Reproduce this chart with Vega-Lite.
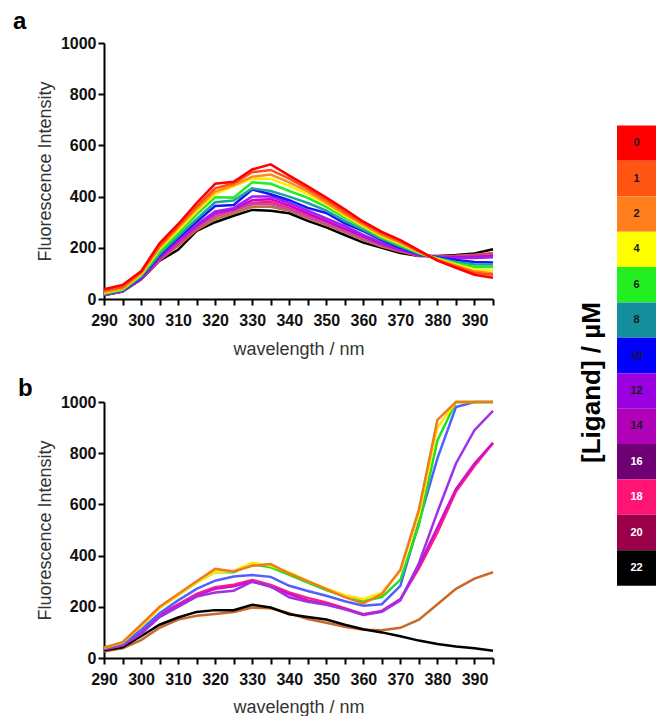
{
  "$schema": "https://vega.github.io/schema/vega-lite/v6.json",
  "background": "white",
  "padding": {"left": 13, "top": 10, "right": 8, "bottom": 0},
  "config": {
    "view": {"stroke": null},
    "font": "Liberation Sans",
    "axis": {
      "grid": false,
      "domainColor": "black",
      "domainWidth": 2,
      "tickColor": "black",
      "tickWidth": 2,
      "tickSize": 6,
      "labelFont": "Liberation Sans",
      "labelFontWeight": "bold",
      "labelFontSize": 16,
      "labelColor": "#111",
      "labelPadding": 2,
      "labelFlush": false,
      "labelOverlap": false,
      "titleFont": "Liberation Sans",
      "titleFontWeight": "normal",
      "titleFontSize": 18,
      "titleColor": "#333"
    }
  },
  "datasets": {
    "a": [
      {"w":290,"c0":38,"c1":32,"c2":28,"c4":25,"c6":20,"c8":20,"c10":20,"c12":18,"c14":18,"c16":18,"c18":18,"c20":17,"c22":15},
      {"w":295,"c0":55,"c1":47,"c2":42,"c4":40,"c6":36,"c8":34,"c10":33,"c12":31,"c14":30,"c16":30,"c18":30,"c20":30,"c22":29},
      {"w":300,"c0":108,"c1":104,"c2":100,"c4":95,"c6":92,"c8":88,"c10":85,"c12":82,"c14":80,"c16":79,"c18":79,"c20":77,"c22":76},
      {"w":305,"c0":218,"c1":208,"c2":202,"c4":195,"c6":185,"c8":175,"c10":170,"c12":165,"c14":160,"c16":156,"c18":156,"c20":152,"c22":150},
      {"w":310,"c0":292,"c1":285,"c2":278,"c4":268,"c6":255,"c8":245,"c10":238,"c12":230,"c14":225,"c16":220,"c18":216,"c20":208,"c22":192},
      {"w":315,"c0":375,"c1":362,"c2":352,"c4":342,"c6":330,"c8":312,"c10":302,"c12":290,"c14":285,"c16":280,"c18":276,"c20":270,"c22":266},
      {"w":320,"c0":450,"c1":432,"c2":420,"c4":410,"c6":397,"c8":378,"c10":363,"c12":342,"c14":336,"c16":322,"c18":326,"c20":312,"c22":300},
      {"w":325,"c0":458,"c1":452,"c2":445,"c4":440,"c6":396,"c8":385,"c10":367,"c12":355,"c14":350,"c16":344,"c18":345,"c20":335,"c22":325},
      {"w":330,"c0":506,"c1":495,"c2":478,"c4":470,"c6":456,"c8":432,"c10":428,"c12":400,"c14":386,"c16":370,"c18":375,"c20":360,"c22":348},
      {"w":335,"c0":526,"c1":504,"c2":486,"c4":470,"c6":450,"c8":422,"c10":409,"c12":400,"c14":390,"c16":370,"c18":380,"c20":360,"c22":345},
      {"w":340,"c0":482,"c1":470,"c2":456,"c4":442,"c6":422,"c8":400,"c10":386,"c12":375,"c14":365,"c16":350,"c18":355,"c20":345,"c22":335},
      {"w":345,"c0":440,"c1":430,"c2":420,"c4":410,"c6":395,"c8":375,"c10":356,"c12":345,"c14":335,"c16":320,"c18":325,"c20":315,"c22":305},
      {"w":350,"c0":396,"c1":386,"c2":376,"c4":370,"c6":360,"c8":345,"c10":336,"c12":315,"c14":305,"c16":295,"c18":300,"c20":290,"c22":280},
      {"w":355,"c0":350,"c1":340,"c2":331,"c4":325,"c6":318,"c8":305,"c10":295,"c12":285,"c14":275,"c16":265,"c18":268,"c20":260,"c22":250},
      {"w":360,"c0":302,"c1":296,"c2":290,"c4":285,"c6":280,"c8":270,"c10":265,"c12":250,"c14":245,"c16":235,"c18":240,"c20":230,"c22":220},
      {"w":365,"c0":262,"c1":256,"c2":250,"c4":245,"c6":240,"c8":235,"c10":230,"c12":220,"c14":215,"c16":210,"c18":212,"c20":205,"c22":200},
      {"w":370,"c0":230,"c1":225,"c2":220,"c4":215,"c6":210,"c8":205,"c10":200,"c12":195,"c14":192,"c16":190,"c18":188,"c20":185,"c22":180},
      {"w":375,"c0":190,"c1":187,"c2":184,"c4":182,"c6":180,"c8":177,"c10":175,"c12":172,"c14":171,"c16":170,"c18":170,"c20":169,"c22":168},
      {"w":380,"c0":150,"c1":152,"c2":154,"c4":156,"c6":158,"c8":160,"c10":162,"c12":164,"c14":165,"c16":166,"c18":166,"c20":167,"c22":168},
      {"w":385,"c0":122,"c1":126,"c2":130,"c4":135,"c6":140,"c8":145,"c10":152,"c12":160,"c14":163,"c16":165,"c18":167,"c20":169,"c22":172},
      {"w":390,"c0":95,"c1":102,"c2":108,"c4":115,"c6":125,"c8":135,"c10":145,"c12":160,"c14":165,"c16":168,"c18":170,"c20":173,"c22":178},
      {"w":395,"c0":83,"c1":95,"c2":100,"c4":110,"c6":125,"c8":135,"c10":143,"c12":163,"c14":168,"c16":172,"c18":175,"c20":180,"c22":194}
    ],
    "b": [
      {"w":290,"or":40,"ye":40,"gr":38,"bl":38,"pu":35,"ma":35,"pi":35,"br":25,"bk":30},
      {"w":295,"or":62,"ye":60,"gr":60,"bl":55,"pu":50,"ma":50,"pi":50,"br":38,"bk":42},
      {"w":300,"or":130,"ye":125,"gr":125,"bl":110,"pu":95,"ma":95,"pi":98,"br":70,"bk":85},
      {"w":305,"or":200,"ye":195,"gr":195,"bl":175,"pu":160,"ma":165,"pi":170,"br":118,"bk":130},
      {"w":310,"or":250,"ye":245,"gr":245,"bl":225,"pu":200,"ma":205,"pi":210,"br":150,"bk":158},
      {"w":315,"or":300,"ye":295,"gr":295,"bl":270,"pu":240,"ma":245,"pi":250,"br":165,"bk":180},
      {"w":320,"or":348,"ye":335,"gr":335,"bl":302,"pu":256,"ma":270,"pi":276,"br":172,"bk":187},
      {"w":325,"or":338,"ye":340,"gr":335,"bl":318,"pu":263,"ma":280,"pi":286,"br":180,"bk":187},
      {"w":330,"or":360,"ye":372,"gr":367,"bl":324,"pu":298,"ma":299,"pi":305,"br":197,"bk":208},
      {"w":335,"or":367,"ye":360,"gr":354,"bl":317,"pu":280,"ma":278,"pi":285,"br":194,"bk":197},
      {"w":340,"or":330,"ye":335,"gr":325,"bl":282,"pu":237,"ma":250,"pi":256,"br":175,"bk":171},
      {"w":345,"or":300,"ye":300,"gr":295,"bl":262,"pu":220,"ma":225,"pi":235,"br":152,"bk":160},
      {"w":350,"or":269,"ye":272,"gr":265,"bl":243,"pu":208,"ma":210,"pi":217,"br":138,"bk":150},
      {"w":355,"or":238,"ye":245,"gr":240,"bl":222,"pu":190,"ma":192,"pi":195,"br":122,"bk":130},
      {"w":360,"or":213,"ye":230,"gr":222,"bl":204,"pu":168,"ma":170,"pi":171,"br":110,"bk":112},
      {"w":365,"or":250,"ye":255,"gr":238,"bl":210,"pu":180,"ma":182,"pi":184,"br":108,"bk":100},
      {"w":370,"or":345,"ye":341,"gr":305,"bl":282,"pu":225,"ma":228,"pi":230,"br":118,"bk":85},
      {"w":375,"or":580,"ye":560,"gr":520,"bl":530,"pu":370,"ma":360,"pi":350,"br":150,"bk":68},
      {"w":380,"or":930,"ye":900,"gr":850,"bl":780,"pu":570,"ma":510,"pi":490,"br":210,"bk":55},
      {"w":385,"or":1000,"ye":1000,"gr":1000,"bl":980,"pu":760,"ma":660,"pi":650,"br":270,"bk":45},
      {"w":390,"or":1000,"ye":1000,"gr":1000,"bl":1000,"pu":890,"ma":760,"pi":750,"br":310,"bk":38},
      {"w":395,"or":1000,"ye":1000,"gr":1000,"bl":1000,"pu":965,"ma":840,"pi":840,"br":335,"bk":28}
    ],
    "legend": [
      {"c":"0"},{"c":"1"},{"c":"2"},{"c":"4"},{"c":"6"},{"c":"8"},{"c":"10"},
      {"c":"12"},{"c":"14"},{"c":"16"},{"c":"18"},{"c":"20"},{"c":"22"}
    ]
  },
  "resolve": {"scale": {"color": "independent"}},
  "spacing": 80,
  "center": true,
  "hconcat": [
    {
      "spacing": 19,
      "resolve": {"scale": {"color": "independent"}},
      "vconcat": [
        {
          "width": 389,
          "height": 256,
          "title": {"text": "a", "anchor": "start", "frame": "group", "dx": -91, "offset": 1, "fontSize": 24, "fontWeight": "bold", "font": "Liberation Sans", "color": "black"},
          "data": {"name": "a"},
          "transform": [{"fold": ["c22","c20","c18","c16","c14","c12","c10","c8","c6","c4","c2","c1","c0"], "as": ["s","v"]}],
          "mark": {"type": "line", "strokeWidth": 2.5},
          "encoding": {
            "x": {"field": "w", "type": "quantitative", "scale": {"domain": [290, 395], "nice": false, "zero": false},
                  "axis": {"values": [290,295,300,305,310,315,320,325,330,335,340,345,350,355,360,365,370,375,380,385,390,395],
                           "labelExpr": "datum.value % 10 === 0 ? datum.label : ''", "labelPadding": 7, "title": "wavelength / nm", "titlePadding": 12}},
            "y": {"field": "v", "type": "quantitative", "scale": {"domain": [0, 1000]},
                  "axis": {"values": [0,200,400,600,800,1000], "format": "d", "title": "Fluorescence Intensity", "titlePadding": 6}},
            "color": {"field": "s", "type": "nominal", "legend": null,
                      "scale": {"domain": ["c0","c1","c2","c4","c6","c8","c10","c12","c14","c16","c18","c20","c22"],
                                "range": ["#ff0000","#ff4d1a","#ff8a20","#ffee00","#22ee22","#20a0a0","#1414ff","#a020f0","#d000d0","#c050a0","#ff1a80","#c07040","#000000"]}}
          }
        },
        {
          "width": 389,
          "height": 256,
          "title": {"text": "b", "anchor": "start", "frame": "group", "dx": -86, "offset": -7, "fontSize": 24, "fontWeight": "bold", "font": "Liberation Sans", "color": "black"},
          "data": {"name": "b"},
          "transform": [{"fold": ["br","bk","pi","ma","pu","bl","gr","ye","or"], "as": ["s","v"]}],
          "mark": {"type": "line", "strokeWidth": 2.5},
          "encoding": {
            "x": {"field": "w", "type": "quantitative", "scale": {"domain": [290, 395], "nice": false, "zero": false},
                  "axis": {"values": [290,295,300,305,310,315,320,325,330,335,340,345,350,355,360,365,370,375,380,385,390,395],
                           "labelExpr": "datum.value % 10 === 0 ? datum.label : ''", "labelPadding": 7, "title": "wavelength / nm", "titlePadding": 11}},
            "y": {"field": "v", "type": "quantitative", "scale": {"domain": [0, 1000]},
                  "axis": {"values": [0,200,400,600,800,1000], "format": "d", "title": "Fluorescence Intensity", "titlePadding": 6}},
            "color": {"field": "s", "type": "nominal", "legend": null,
                      "scale": {"domain": ["or","ye","gr","bl","pu","ma","pi","br","bk"],
                                "range": ["#f07a1e","#ffe800","#20e020","#5060ff","#a030e8","#d010d0","#ff2080","#c8692a","#000000"]}}
          }
        }
      ]
    },
    {
      "width": 39,
      "height": 531,
      "data": {"name": "legend"},
      "encoding": {
        "y": {"field": "c", "type": "ordinal", "sort": null,
              "scale": {"paddingInner": 0, "paddingOuter": 1, "align": 0.162},
              "axis": {"labels": false, "ticks": false, "domain": false, "title": "[Ligand] / µM", "titleY": 268,
                       "titleFontSize": 26, "titleFontWeight": "bold", "titleColor": "black", "titlePadding": 13}}
      },
      "layer": [
        {
          "mark": {"type": "rect"},
          "encoding": {
            "color": {"field": "c", "type": "ordinal", "sort": null, "legend": null,
                      "scale": {"domain": ["0","1","2","4","6","8","10","12","14","16","18","20","22"],
                                "range": ["#ff0000","#ff5512","#ff7f1e","#ffff00","#22ee22","#158f9e","#0000ff","#9a00e0","#b000b8","#6e0074","#ff1475","#9a004a","#000000"]}}
          }
        },
        {
          "mark": {"type": "text", "fontSize": 11, "fontWeight": "bold", "font": "Liberation Sans"},
          "encoding": {
            "text": {"field": "c"},
            "color": {"condition": {"test": "indexof(['16','18','20','22'], datum.c) >= 0", "value": "white"}, "value": "#1a1a1a"}
          }
        }
      ]
    }
  ]
}
